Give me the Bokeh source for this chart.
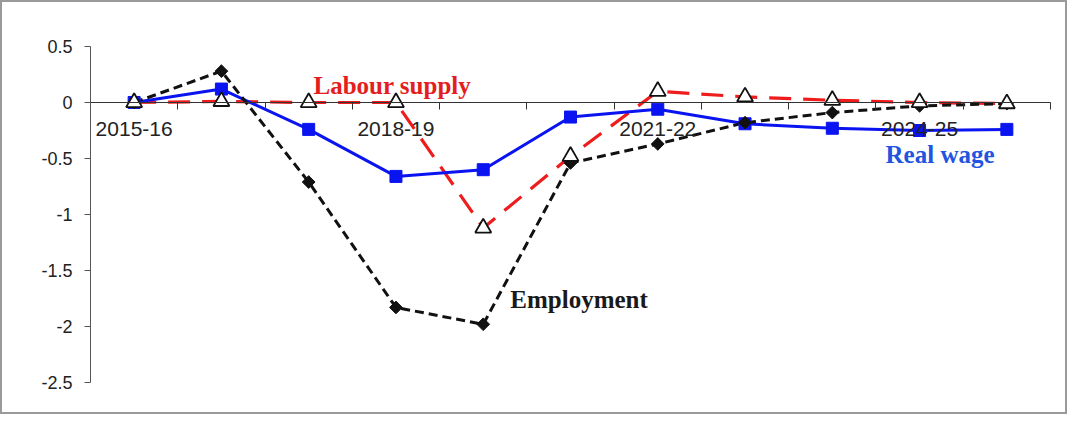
import math
from bokeh.plotting import figure
from bokeh.models import Range1d, FixedTicker, CustomJSTickFormatter, LinearAxis, Label
from bokeh.embed import file_html
from bokeh.resources import INLINE

years = ["2015-16", "2016-17", "2017-18", "2018-19", "2019-20", "2020-21",
         "2021-22", "2022-23", "2023-24", "2024-25", "2025-26"]
employment = [0.0, 0.28, -0.71, -1.83, -1.98, -0.54, -0.37, -0.18, -0.09, -0.03, -0.01]
real_wage = [0.0, 0.12, -0.24, -0.66, -0.60, -0.13, -0.06, -0.19, -0.23, -0.25, -0.24]
labour_supply = [0.0, 0.01, 0.0, 0.0, -1.12, -0.48, 0.10, 0.05, 0.02, 0.0, -0.01]
y_ticks = [0.5, 0.0, -0.5, -1.0, -1.5, -2.0, -2.5]
x_label_idx = [0, 3, 6, 9]

idx = list(range(len(years)))

W, H = 1067, 414
LEFT, TOP = 90, 46          # pixel position of (x=-0.5, y=0.5) in the canvas
px_per_x = 960 / 11.0
px_per_y = 112.0
x0 = -0.5 - LEFT / px_per_x
x1 = 10.5 + (W - LEFT - 960) / px_per_x
y1 = 0.5 + TOP / px_per_y
y0 = -2.5 - (H - TOP - 336) / px_per_y

p = figure(width=W, height=H, output_backend="svg", toolbar_location=None,
           x_range=Range1d(x0, x1), y_range=Range1d(y0, y1),
           x_axis_location=None, y_axis_location=None,
           min_border=0, min_border_left=0, min_border_right=0,
           min_border_top=0, min_border_bottom=0)
p.grid.visible = False
p.outline_line_color = "#9a9a9a"
p.outline_line_width = 3
p.background_fill_color = "white"
p.border_fill_color = "white"

# y axis at x=-0.5
yax = LinearAxis(fixed_location=-0.5, bounds=(-2.5, 0.5))
yax.ticker = FixedTicker(ticks=y_ticks, minor_ticks=[])
yax.formatter = CustomJSTickFormatter(code="return String(Math.round(tick*10)/10)")
yax.major_tick_out = 6
yax.major_tick_in = 0
yax.minor_tick_out = 0
yax.minor_tick_in = 0
yax.axis_line_color = "#555555"
yax.major_tick_line_color = "#555555"
yax.major_label_text_font = "Liberation Sans"
yax.major_label_text_font_size = "18px"
yax.major_label_text_color = "#222222"
yax.major_label_standoff = 12
p.add_layout(yax, "left")

# x axis at y=0
xax = LinearAxis(fixed_location=0, bounds=(-0.5, 10.5))
xax.ticker = FixedTicker(ticks=x_label_idx,
                         minor_ticks=[i - 0.5 for i in range(len(years) + 1)])
xax.formatter = CustomJSTickFormatter(args=dict(labels=years),
                                      code="return labels[Math.round(tick)]")
xax.major_tick_out = 0
xax.major_tick_in = 0
xax.minor_tick_out = 7
xax.minor_tick_in = 0
xax.axis_line_color = "#333333"
xax.minor_tick_line_color = "#333333"
xax.major_label_text_font = "Liberation Sans"
xax.major_label_text_font_size = "21px"
xax.major_label_text_color = "#222222"
xax.major_label_standoff = 12
p.add_layout(xax, "below")

# lines
p.line(idx, labour_supply, line_color="#ee1c1c", line_width=3.2, line_dash="22 12")
p.line(idx, real_wage, line_color="#0a14f0", line_width=3)
p.line(idx, employment, line_color="#111111", line_width=3, line_dash="9 5")

# markers
p.scatter(idx, real_wage, marker="square", size=12, fill_color="#0a14f0",
          line_color="#0a14f0")
p.scatter(idx, employment, marker="square", size=9, angle=math.pi / 4,
          fill_color="#111111", line_color="#111111")
p.scatter(idx, labour_supply, marker="triangle", size=16, fill_color="white",
          line_color="#111111", line_width=1.8)

# annotations
for txt, x, y, col in [("Labour supply", 2.055, 0.15, "#e41e1e"),
                       ("Real wage", 8.61, -0.465, "#1f55e0"),
                       ("Employment", 4.31, -1.76, "#1a1a1a")]:
    p.add_layout(Label(x=x, y=y, text=txt, text_color=col,
                       text_font="Liberation Serif", text_font_style="bold",
                       text_font_size="25px", text_baseline="alphabetic",
                       text_align="left"))

open("out.html", "w").write(file_html(p, INLINE))
